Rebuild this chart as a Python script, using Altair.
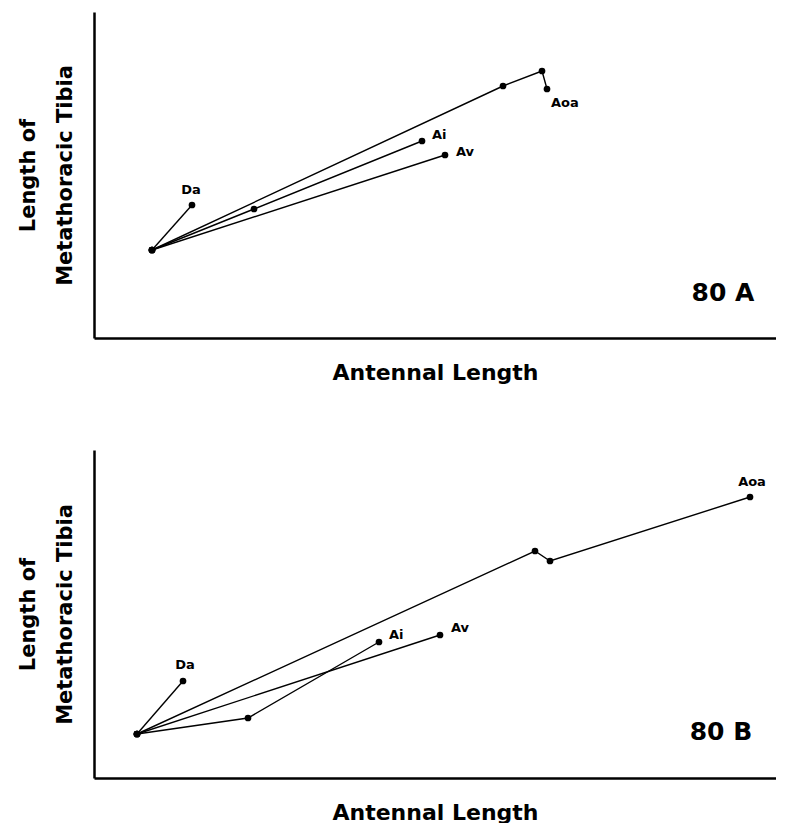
import altair as alt
import pandas as pd

# ---- Panel 80 A (arbitrary units) ----
a_series = ["Da", "Da", "Ai", "Ai", "Ai", "Av", "Av", "Aoa", "Aoa", "Aoa", "Aoa"]
a_order = [0, 1, 0, 1, 2, 0, 1, 0, 1, 2, 3]
a_x = [58, 98, 58, 160, 328, 58, 351, 58, 409, 448, 453]
a_y = [88, 133, 88, 129, 197, 88, 183, 88, 252, 267, 249]

# ---- Panel 80 B ----
b_series = ["Da", "Da", "Ai", "Ai", "Ai", "Av", "Av", "Aoa", "Aoa", "Aoa", "Aoa"]
b_order = [0, 1, 0, 1, 2, 0, 1, 0, 1, 2, 3]
b_x = [43, 89, 43, 154, 285, 43, 346, 43, 441, 456, 656]
b_y = [44, 97, 44, 60, 136, 44, 143, 44, 227, 217, 281]

panel_names = ["80 A", "80 B"]
panel_label_x = [629, 627]
panel_label_y = [45, 46]

# label offsets (dx, dy, align) per panel and series
a_label_style = {"Da": (-1, -15, "center"), "Ai": (10, -6, "left"),
                 "Av": (11, -3, "left"), "Aoa": (4, 14, "left")}
b_label_style = {"Da": (2, -16, "center"), "Ai": (10, -7, "left"),
                 "Av": (11, -7, "left"), "Aoa": (2, -15, "center")}

X_MAX = 682
FONT = "DejaVu Sans"


def panel(series, order, xs, ys, ymax, styles, name, lx, ly):
    df = pd.DataFrame({"series": series, "order": order, "x": xs, "y": ys})
    xsc = alt.Scale(domain=[0, X_MAX], nice=False, zero=False)
    ysc = alt.Scale(domain=[0, ymax], nice=False, zero=False)
    xenc = alt.X("x:Q", scale=xsc, axis=alt.Axis(
        title="Antennal Length", ticks=False, labels=False, grid=False,
        domainColor="black", domainWidth=2.5, titleFontSize=22,
        titleFont=FONT, titleFontWeight="bold", titleColor="black",
        titlePadding=24))
    yenc = alt.Y("y:Q", scale=ysc, axis=alt.Axis(
        title=["Length of", "Metathoracic Tibia"], ticks=False, labels=False,
        grid=False, domainColor="black", domainWidth=2.5, titleFontSize=21,
        titleFont=FONT, titleFontWeight="bold", titleColor="black",
        titlePadding=19, titleLineHeight=37))
    base = alt.Chart(df)
    lines = base.mark_line(color="black", strokeWidth=1.4).encode(
        x=xenc, y=yenc, detail="series:N", order="order:Q")
    pts = base.mark_circle(color="black", opacity=1, size=45).encode(
        x="x:Q", y="y:Q")
    layers = [lines, pts]
    ends = df.sort_values("order").groupby("series").tail(1)
    for s, (dx, dy, al) in styles.items():
        sub = ends[ends["series"] == s]
        layers.append(alt.Chart(sub).mark_text(
            dx=dx, dy=dy, align=al, baseline="middle", font=FONT,
            fontSize=13, fontWeight="bold", color="black").encode(
            x="x:Q", y="y:Q", text="series:N"))
    pl = pd.DataFrame({"x": [lx], "y": [ly], "t": [name]})
    layers.append(alt.Chart(pl).mark_text(
        font=FONT, fontSize=25, fontWeight="bold", color="black",
        baseline="middle", align="center").encode(
        x="x:Q", y="y:Q", text="t:N"))
    return alt.layer(*layers).properties(width=X_MAX, height=ymax)


top = panel(a_series, a_order, a_x, a_y, 326, a_label_style,
            panel_names[0], panel_label_x[0], panel_label_y[0])
bottom = panel(b_series, b_order, b_x, b_y, 328, b_label_style,
               panel_names[1], panel_label_x[1], panel_label_y[1])

chart = alt.vconcat(top, bottom, spacing=112, bounds="flush").properties(
    padding={"top": 4, "left": 9, "right": 0, "bottom": 0}
).configure_view(stroke=None)

chart.save("out.html", embed_options={"renderer": "svg", "actions": False})
